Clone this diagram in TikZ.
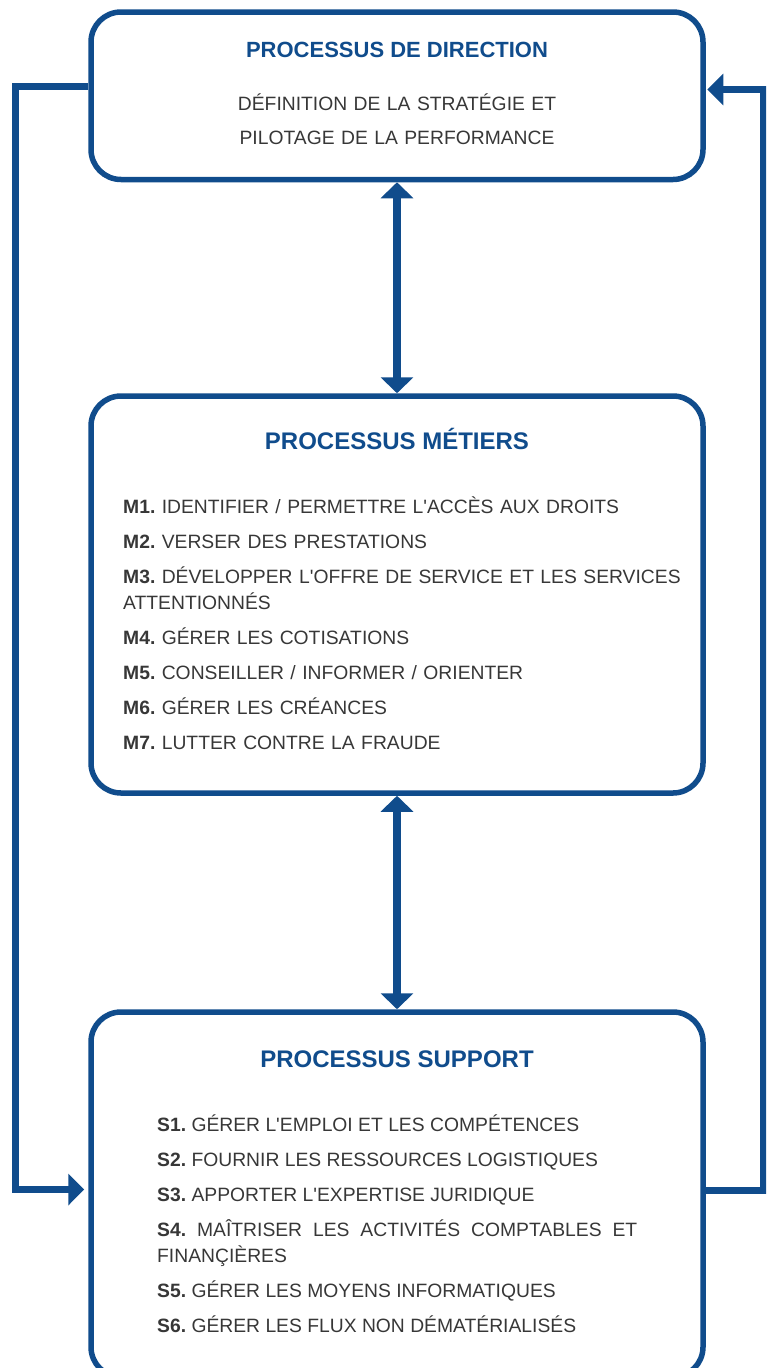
\documentclass[tikz,border=0pt]{standalone}
\usepackage{fontspec}
\setmainfont{Liberation Sans}
\usetikzlibrary{positioning,arrows.meta}
\frenchspacing
\hyphenpenalty=10000
\exhyphenpenalty=10000
\definecolor{procblue}{RGB}{16,76,140}
\definecolor{textgray}{RGB}{55,55,55}
\tikzset{
  procbox/.style={draw=procblue, line width=5.5pt, rounded corners=30pt,
    minimum width=612pt, inner sep=0pt},
  proctitle/.style={text=procblue, anchor=base,
    font=\bfseries\fontsize{24}{28}\selectfont},
  proctext/.style={text=textgray, inner sep=0pt,
    font=\fontsize{19.3}{26}\selectfont},
  link/.style={draw=procblue, line width=8pt,
    {Triangle[length=16pt,width=32pt]}-{Triangle[length=16pt,width=32pt]}},
  feedback/.style={draw=procblue, line width=7pt,
    -{Triangle[length=16pt,width=31pt]}},
}
\begin{document}
\begin{tikzpicture}[x=1pt, y=-1pt]
  \clip (0,0) rectangle (766,1368);
  % boxes
  \node[procbox, minimum height=167.5pt] (dir) at (397,95.75) {};
  \node[procbox, minimum height=397pt, below=211pt of dir] (met) {};
  \node[procbox, minimum height=365pt, below=213.5pt of met] (sup) {};

  % direction
  \node[proctitle, font=\bfseries\fontsize{22}{26}\selectfont] (dirtitle)
    at ([yshift=-47.75pt]dir.north) {PROCESSUS DE DIRECTION};
  \node[proctext, font=\fontsize{19.3}{34}\selectfont, anchor=north,
        text width=500pt, align=center] (dirtext)
    at ([yshift=-76.95pt]dir.north) {
    \strut DÉFINITION DE LA STRATÉGIE ET\\
    PILOTAGE DE LA PERFORMANCE
  };

  % metiers
  \node[proctitle] (mettitle) at ([yshift=-55.75pt]met.north) {PROCESSUS MÉTIERS};
  \node[proctext, anchor=north west, text width=560pt, align=left] (metlist)
    at ([xshift=34.75pt, yshift=-101.55pt]met.north west) {
    \setlength{\parskip}{9pt}%
    \strut\textbf{M1.} IDENTIFIER / PERMETTRE L\textquotesingle ACCÈS AUX DROITS\par
    \textbf{M2.} VERSER DES PRESTATIONS\par
    \textbf{M3.} DÉVELOPPER L\textquotesingle OFFRE DE SERVICE ET LES SERVICES ATTENTIONNÉS\par
    \textbf{M4.} GÉRER LES COTISATIONS\par
    \textbf{M5.} CONSEILLER / INFORMER / ORIENTER\par
    \textbf{M6.} GÉRER LES CRÉANCES\par
    \textbf{M7.} LUTTER CONTRE LA FRAUDE
  };

  % support
  \node[proctitle] (suptitle) at ([yshift=-57.75pt]sup.north) {PROCESSUS SUPPORT};
  \node[proctext, anchor=north west, text width=480pt, align=justify] (suplist)
    at ([xshift=68.75pt, yshift=-103.55pt]sup.north west) {
    \setlength{\parskip}{9pt}%
    \strut\textbf{S1.} GÉRER L\textquotesingle EMPLOI ET LES COMPÉTENCES\par
    \textbf{S2.} FOURNIR LES RESSOURCES LOGISTIQUES\par
    \textbf{S3.} APPORTER L\textquotesingle EXPERTISE JURIDIQUE\par
    \textbf{S4.} MAÎTRISER LES ACTIVITÉS COMPTABLES ET FINANÇIÈRES\par
    \textbf{S5.} GÉRER LES MOYENS INFORMATIQUES\par
    \textbf{S6.} GÉRER LES FLUX NON DÉMATÉRIALISÉS
  };

  % connectors
  \draw[link] (dir.south) -- (met.north);
  \draw[link] (met.south) -- (sup.north);
  \draw[feedback, shorten >=4pt] ([yshift=9.25pt]dir.west) -- ++(-73,0)
    |- ([yshift=5pt]sup.west);
  \draw[feedback, shorten >=1.5pt] ([yshift=4.5pt]sup.east) -- ++(57.5,0)
    |- ([yshift=6.25pt]dir.east);
\end{tikzpicture}
\end{document}
